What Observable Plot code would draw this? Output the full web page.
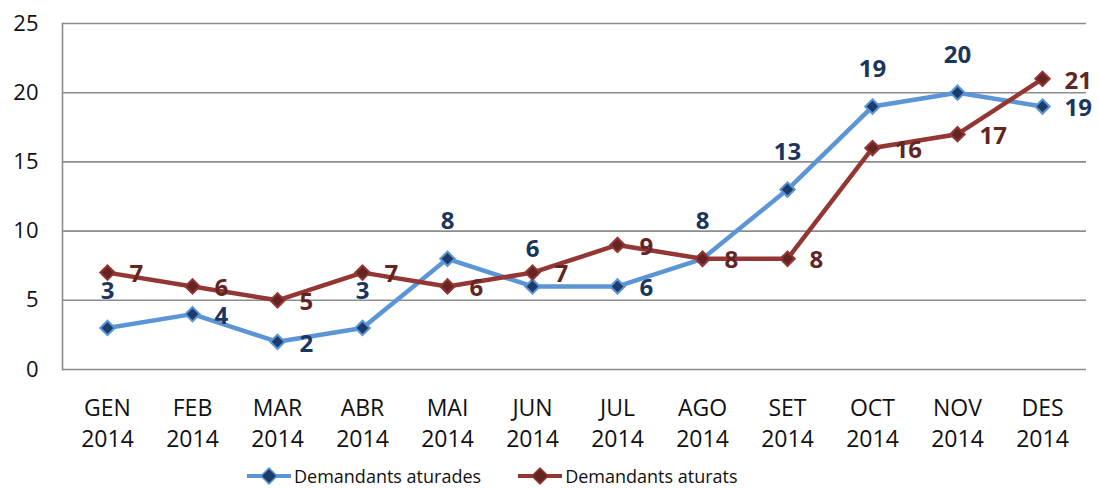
<!DOCTYPE html>
<html>
<head>
<meta charset="utf-8">
<script src="https://cdn.jsdelivr.net/npm/d3@7"></script>
<script src="https://cdn.jsdelivr.net/npm/@observablehq/plot@0.6"></script>
<style>
  html, body { margin: 0; padding: 0; background: #fff; }
  #chart { width: 1099px; height: 452px; }
  .legend { display: flex; justify-content: flex-start; gap: 37px; font-family: "Open Sans", sans-serif; font-size: 18px; color: #111; margin-top: 12px; padding-left: 247px; }
  .legend .item { display: flex; align-items: center; gap: 3px; }
</style>
</head>
<body>
<div id="chart"></div>
<script>
const months = ["GEN","FEB","MAR","ABR","MAI","JUN","JUL","AGO","SET","OCT","NOV","DES"];
const year = "2014";
const aturades = [3,4,2,3,8,6,6,8,13,19,20,19];
const aturats  = [7,6,5,7,6,7,9,8,8,16,17,21];
const aturadesLabelSide = ["above","right","right","above","above","above","right","above","above","above","above","right"];
const aturatsLabelSide  = ["right","right","right","right","right","right","right","right","right","right","right","right"];
const seriesNames = ["Demandants aturades","Demandants aturats"];
const yTicks = [0,5,10,15,20,25];

const colors = {
  blueLine: "#5b95d6", blueFill: "#1c3c6c", blueText: "#1b365d",
  redLine: "#943634", redFill: "#632523", redText: "#632523"
};

const blue = months.map((m,i) => ({month: m, value: aturades[i], side: aturadesLabelSide[i]}));
const red  = months.map((m,i) => ({month: m, value: aturats[i], side: aturatsLabelSide[i]}));

const font = "Open Sans, sans-serif";
const shadow = "filter: drop-shadow(1px 2px 1.5px rgba(0,0,0,0.35))";

const plot = Plot.plot({
  width: 1099,
  height: 452,
  marginLeft: 62,
  marginRight: 13,
  marginTop: 23,
  marginBottom: 83,
  style: {fontFamily: font, background: "#fff", color: "#111", overflow: "visible"},
  x: {type: "point", domain: months, padding: 0.5, label: null},
  y: {domain: [0, 25], label: null},
  marks: [
    Plot.gridY(yTicks, {stroke: "#8c8c8c", strokeOpacity: 1, strokeWidth: 1.6}),
    Plot.frame({anchor: "left", stroke: "#8c8c8c", strokeWidth: 1.6}),
    Plot.axisY(yTicks, {tickSize: 0, tickPadding: 24, fontSize: 22, label: null, fill: "#111"}),
    Plot.axisX({tickSize: 0, tickPadding: 24, fontSize: 23, lineHeight: 1.35, label: null, fill: "#111",
      tickFormat: d => d + "\n" + year}),
    Plot.line(blue, {x: "month", y: "value", stroke: colors.blueLine, strokeWidth: 4.5}),
    Plot.dot(blue, {x: "month", y: "value", symbol: "diamond2", r: 6.5, fill: colors.blueFill, stroke: colors.blueLine, strokeWidth: 2, style: shadow}),
    Plot.line(red, {x: "month", y: "value", stroke: colors.redLine, strokeWidth: 4.5}),
    Plot.dot(red, {x: "month", y: "value", symbol: "diamond2", r: 6.5, fill: colors.redFill, stroke: colors.redLine, strokeWidth: 2, style: shadow}),
    Plot.text(blue.filter(d => d.side === "above"), {x: "month", y: "value", text: "value", dy: -37, fill: colors.blueText, fontSize: 24, fontWeight: "bold"}),
    Plot.text(blue.filter(d => d.side === "right"), {x: "month", y: "value", text: "value", dx: 22, dy: 2, textAnchor: "start", fill: colors.blueText, fontSize: 24, fontWeight: "bold"}),
    Plot.text(red.filter(d => d.side === "right"), {x: "month", y: "value", text: "value", dx: 22, dy: 2, textAnchor: "start", fill: colors.redText, fontSize: 24, fontWeight: "bold"})
  ]
});
document.getElementById("chart").appendChild(plot);

const legend = document.createElement("div");
legend.className = "legend";
[[seriesNames[0], colors.blueLine, colors.blueFill], [seriesNames[1], colors.redLine, colors.redFill]].forEach(([name, line, fill]) => {
  const item = document.createElement("div");
  item.className = "item";
  item.innerHTML = `<svg width="44" height="20"><line x1="0" y1="10" x2="44" y2="10" stroke="${line}" stroke-width="4"/><path d="M22 2 L30 10 L22 18 L14 10 Z" fill="${fill}" stroke="${line}" stroke-width="1.5"/></svg><span>${name}</span>`;
  legend.appendChild(item);
});
document.body.appendChild(legend);
</script>
</body>
</html>
